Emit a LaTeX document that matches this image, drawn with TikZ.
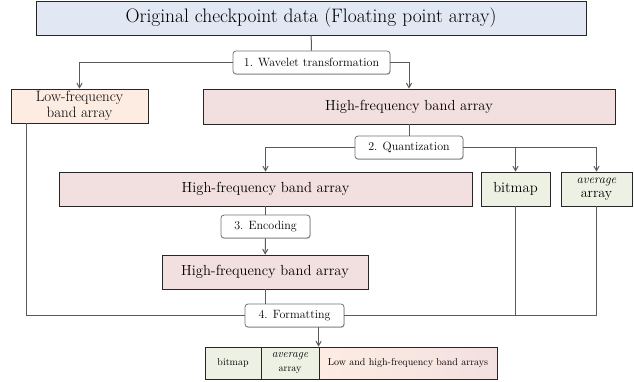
\documentclass[tikz,border=0pt]{standalone}
\usepackage{tikz}
\usepackage{color}
\usetikzlibrary{arrows,shadows}
\definecolor{origfill}{RGB}{226,232,243}
\definecolor{lowfill}{RGB}{253,236,226}
\definecolor{highfill}{RGB}{242,224,224}
\definecolor{bitfill}{RGB}{237,241,228}
\definecolor{wire}{RGB}{90,90,90}
\tikzset{
  box/.style={rectangle,draw=black!85,line width=0.8pt,inner sep=0pt,align=center,
    font=\fontsize{14.6}{16}\selectfont},
  stepbox/.style={rectangle,rounded corners=3pt,draw=black!55,line width=0.8pt,fill=white,
    inner sep=0pt,align=center,font=\fontsize{12}{14}\selectfont,
    drop shadow={shadow xshift=0.6pt,shadow yshift=-0.9pt,opacity=0.45}},
  cell/.style={rectangle,draw=black!85,line width=0.8pt,inner sep=0pt,align=center,
    minimum height=32pt,font=\fontsize{10}{14}\selectfont},
  wireline/.style={draw=wire,line width=1pt},
  wirearrow/.style={wireline,->,>=angle 60}
}
\begin{document}
\begin{tikzpicture}[x=1pt,y=-1pt]
\useasboundingbox (0,0) rectangle (634,381);
\node at (311,18)[box,fill=origfill,minimum width=550pt,minimum height=34pt,font=\fontsize{19.5}{22}\selectfont](orig){Original checkpoint data (Floating point array)};
\node at (311.5,62.5)[stepbox,minimum width=157pt,minimum height=23pt](step1){1. Wavelet transformation};
\node at (79.5,106)[box,fill=lowfill,minimum width=137pt,minimum height=34pt,font=\fontsize{15}{15.5}\selectfont](low){Low-frequency\\band array};
\node at (409,106.5)[box,fill=highfill,minimum width=412pt,minimum height=35pt](high1){High-frequency band array};
\node at (409,147.5)[stepbox,minimum width=108pt,minimum height=23pt](step2){2. Quantization};
\node at (265.5,189)[box,fill=highfill,minimum width=413pt,minimum height=34pt](high2){High-frequency band array};
\node at (515.5,189)[box,fill=bitfill,minimum width=69pt,minimum height=34pt](bitmap){bitmap};
\node at (596.5,189)[box,fill=bitfill,minimum width=71pt,minimum height=34pt,font=\fontsize{14}{14.5}\selectfont](avg){{\fontsize{12.5}{14.5}\selectfont\itshape average}\\array};
\node at (265.5,226.5)[stepbox,minimum width=89pt,minimum height=23pt](step3){3. Encoding};
\node at (265,272)[box,fill=highfill,minimum width=206pt,minimum height=34pt](high3){High-frequency band array};
\node at (294.5,315.5)[stepbox,minimum width=99pt,minimum height=23pt](step4){4. Formatting};
\node at (233,363)[cell,fill=bitfill,minimum width=56pt](bitrow){bitmap};
\node at (290,363)[cell,fill=bitfill,minimum width=58pt](avgrow){{\fontsize{11.5}{14}\selectfont\itshape average}\\array};
\node at (408,363)[cell,left color=lowfill,right color=highfill,minimum width=178pt](bandrow){Low and high-frequency band arrays};
\draw[wireline] (orig) -- (step1);
\draw[wirearrow] (step1) -| (low);
\draw[wirearrow] (step1) -| (high1);
\draw[wireline] (high1) -- (step2);
\draw[wirearrow] (step2) -| (high2);
\draw[wirearrow] (step2) -| (bitmap);
\draw[wirearrow] (step2) -| (avg);
\draw[wireline] (high2) -- (step3);
\draw[wirearrow] (step3) -- (high3);
\draw[wireline] (high3) -- (high3 |- step4.north);
\coordinate (lowout) at ([xshift=16pt]low.south west);
\draw[wireline] (lowout) |- (step4);
\draw[wireline] (bitmap) |- (step4);
\draw[wireline] (avg) |- (step4);
\draw[wirearrow] (step4.south -| bandrow.north west) -- (bandrow.north west);
\end{tikzpicture}
\end{document}
